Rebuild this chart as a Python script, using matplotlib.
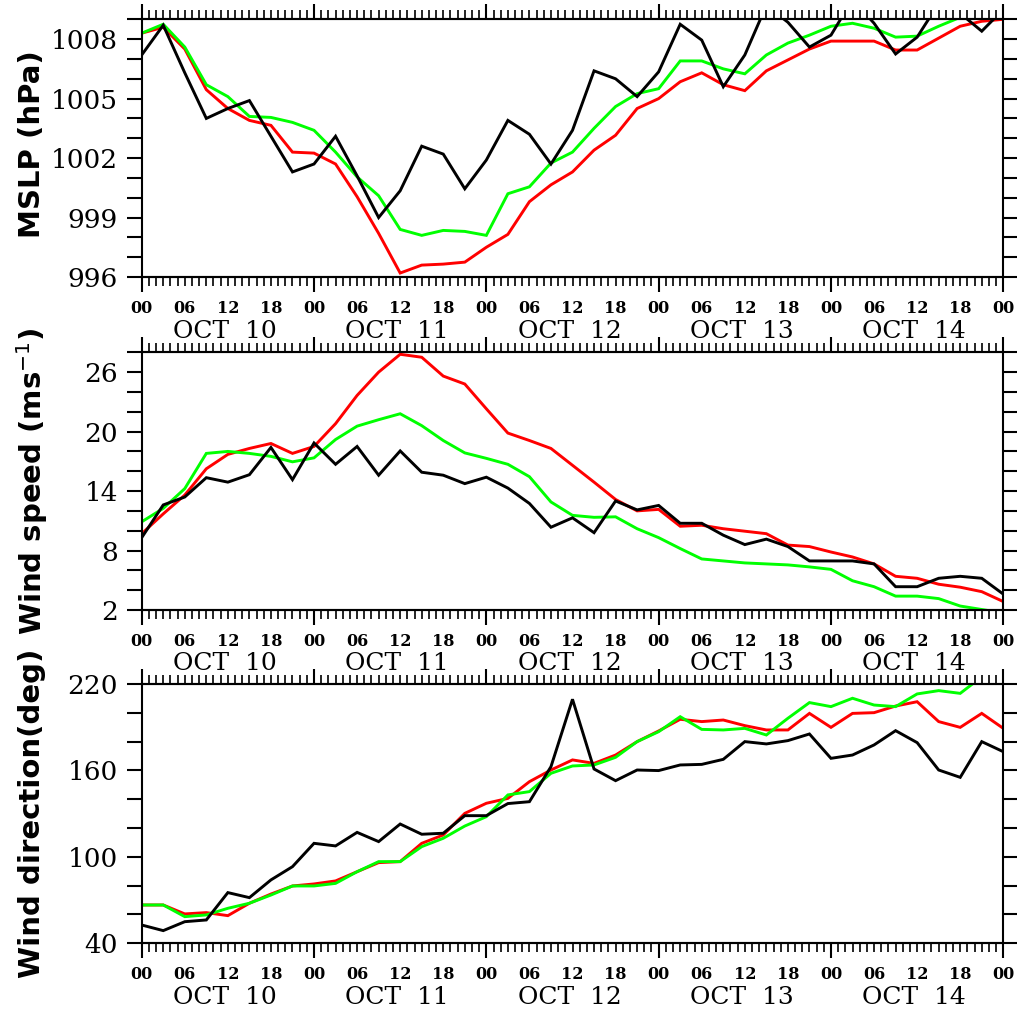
import matplotlib
matplotlib.use("Agg")
import matplotlib.pyplot as plt
from matplotlib.ticker import MultipleLocator, FixedLocator
import numpy as np

# time axis: hours from OCT 10 00Z, 3-hourly
hours = list(range(0, 121, 3))
hour_labels = ["00", "06", "12", "18"] * 5 + ["00"]
day_labels = ["OCT  10", "OCT  11", "OCT  12", "OCT  13", "OCT  14"]

# MSLP (hPa)
mslp_black = [1007.2, 1008.7, 1006.3, 1004.0, 1004.5, 1004.9, 1003.1, 1001.3, 1001.7, 1003.1,
              1001.1, 999.0, 1000.35, 1002.6, 1002.2, 1000.45, 1001.9, 1003.9, 1003.2, 1001.7,
              1003.4, 1006.4, 1006.0, 1005.1, 1006.35, 1008.75, 1007.95, 1005.6, 1007.2, 1009.7,
              1008.85, 1007.6, 1008.2, 1010.0, 1008.8, 1007.25, 1008.1, 1009.8, 1009.3, 1008.4, 1009.5]
mslp_red = [1008.3, 1008.6, 1007.5, 1005.45, 1004.5, 1003.9, 1003.65, 1002.3, 1002.25, 1001.7,
            1000.05, 998.2, 996.2, 996.6, 996.65, 996.75, 997.5, 998.15, 999.8, 1000.65,
            1001.3, 1002.4, 1003.15, 1004.5, 1005.0, 1005.85, 1006.3, 1005.7, 1005.4, 1006.4,
            1006.95, 1007.5, 1007.9, 1007.9, 1007.9, 1007.45, 1007.45, 1008.05, 1008.65, 1008.9, 1009.0]
mslp_green = [1008.3, 1008.75, 1007.6, 1005.7, 1005.1, 1004.1, 1004.05, 1003.8, 1003.4, 1002.3,
              1001.05, 1000.1, 998.4, 998.1, 998.35, 998.3, 998.1, 1000.2, 1000.55, 1001.75,
              1002.3, 1003.5, 1004.6, 1005.25, 1005.5, 1006.9, 1006.9, 1006.5, 1006.25, 1007.2,
              1007.8, 1008.2, 1008.65, 1008.8, 1008.55, 1008.1, 1008.15, 1008.65, 1009.1, 1009.5, 1009.7]

# Wind speed (m/s)
ws_black = [9.3, 12.6, 13.4, 15.35, 14.9, 15.65, 18.4, 15.15, 18.85, 16.7,
            18.5, 15.6, 18.05, 15.9, 15.6, 14.75, 15.4, 14.3, 12.75, 10.35,
            11.3, 9.8, 13.0, 12.1, 12.55, 10.75, 10.75, 9.55, 8.6, 9.15,
            8.4, 6.95, 6.95, 6.95, 6.65, 4.35, 4.35, 5.2, 5.4, 5.2, 3.6]
ws_red = [9.7, 11.7, 13.6, 16.25, 17.7, 18.3, 18.8, 17.8, 18.5, 20.8,
          23.65, 26.0, 27.8, 27.5, 25.6, 24.8, 22.3, 19.85, 19.1, 18.3,
          16.6, 14.9, 13.15, 12.0, 12.15, 10.45, 10.55, 10.2, 9.95, 9.7,
          8.55, 8.4, 7.85, 7.35, 6.65, 5.4, 5.2, 4.6, 4.3, 3.85, 2.85]
ws_green = [10.9, 12.25, 14.25, 17.8, 18.0, 17.8, 17.5, 16.95, 17.35, 19.2,
            20.55, 21.2, 21.8, 20.6, 19.1, 17.85, 17.3, 16.7, 15.45, 12.9,
            11.55, 11.35, 11.4, 10.2, 9.3, 8.2, 7.15, 6.95, 6.75, 6.65,
            6.55, 6.35, 6.1, 4.95, 4.35, 3.4, 3.4, 3.15, 2.4, 2.05, 1.7]

# Wind direction (deg)
wd_black = [52.7, 48.8, 55.0, 56.2, 75.2, 71.7, 84.0, 93.2, 109.4, 107.6,
            117.0, 110.6, 122.8, 115.7, 116.4, 128.6, 128.6, 137.0, 138.3, 162.6,
            209.4, 161.0, 152.9, 160.3, 159.9, 163.8, 164.2, 167.7, 180.0, 178.4,
            180.7, 185.3, 168.4, 170.7, 177.7, 187.6, 179.3, 160.3, 155.2, 180.0, 173.0]
wd_red = [66.6, 66.6, 60.4, 61.3, 59.2, 67.8, 74.2, 79.8, 81.2, 83.3,
          89.7, 96.0, 96.7, 109.4, 115.2, 130.2, 137.2, 140.6, 152.2, 160.3,
          167.3, 164.9, 170.7, 180.0, 187.4, 195.5, 193.9, 195.0, 191.1, 188.1,
          188.1, 199.6, 189.9, 199.6, 200.1, 204.7, 207.7, 193.9, 189.9, 199.6, 189.2]
wd_green = [66.6, 66.6, 58.5, 59.7, 64.3, 67.8, 73.5, 79.8, 79.8, 81.6,
            89.7, 96.7, 96.7, 107.1, 112.9, 121.4, 127.9, 143.0, 145.3, 158.0,
            163.1, 163.8, 169.1, 180.0, 186.9, 197.3, 188.5, 188.1, 189.2, 184.6,
            196.2, 207.1, 204.3, 210.1, 205.4, 204.3, 213.1, 215.4, 213.5, 225.0, 228.0]

panels = [
    dict(black=mslp_black, red=mslp_red, green=mslp_green, ylim=(996, 1009),
         minor=1, ticks=[996, 999, 1002, 1005, 1008], label="MSLP (hPa)",
         rect=[141.7, 19.3, 1003.3, 277.0], lab_y=0.515),
    dict(black=ws_black, red=ws_red, green=ws_green, ylim=(2, 28),
         minor=2, ticks=[2, 8, 14, 20, 26], label="Wind speed (ms$^{-1}$)",
         rect=[141.7, 352.3, 1003.3, 610.0], lab_y=0.5),
    dict(black=wd_black, red=wd_red, green=wd_green, ylim=(40, 220),
         minor=20, ticks=[40, 100, 160, 220], label="Wind direction(deg)",
         rect=[141.7, 684.0, 1003.3, 943.3], lab_y=0.5),
]

W, H = 1017, 1019
fig = plt.figure(figsize=(W / 100, H / 100), dpi=100)
serif = "DejaVu Serif"

for p in panels:
    x0, y0, x1, y1 = p["rect"]
    ax = fig.add_axes([x0 / W, 1 - y1 / H, (x1 - x0) / W, (y1 - y0) / H])
    ax.plot(hours, p["red"], color="#ff0000", lw=2.1, solid_joinstyle="miter")
    ax.plot(hours, p["green"], color="#00ff00", lw=2.1, solid_joinstyle="miter")
    ax.plot(hours, p["black"], color="black", lw=2.1, solid_joinstyle="miter")
    ax.set_xlim(0, 120)
    ax.set_ylim(*p["ylim"])
    for s in ax.spines.values():
        s.set_linewidth(1.5)

    # y axis
    ax.yaxis.set_major_locator(FixedLocator(p["ticks"]))
    ax.yaxis.set_minor_locator(MultipleLocator(p["minor"]))
    ax.tick_params(axis="y", which="both", direction="out", left=True, right=True,
                   length=11, width=1.5, labelsize=19, pad=6)
    for t in ax.get_yticklabels():
        t.set_family(serif)

    # x axis: labels every 6 h, minor ticks hourly, long ticks at day boundaries
    ax.set_xticks(list(range(0, 121, 6)), hour_labels)
    ax.xaxis.set_minor_locator(MultipleLocator(1))
    ax.tick_params(axis="x", which="both", direction="out", top=True, bottom=True,
                   length=6.5, width=1.2, labelsize=11.5, pad=10)
    for t in ax.get_xticklabels():
        t.set_family(serif)
        t.set_weight("bold")
    for side in ("bottom", "top"):
        sec = ax.secondary_xaxis(side)
        sec.set_xticks(list(range(0, 121, 24)), [""] * 6)
        sec.tick_params(length=11, width=1.5, direction="out")
        sec.spines[side].set_linewidth(1.5)

    for k, lab in enumerate(day_labels):
        ax.annotate(lab, xy=(12 + 24 * k, 0), xycoords=("data", "axes fraction"),
                    xytext=(-3, -54), textcoords="offset pixels", ha="center", va="center",
                    fontsize=18, family=serif)

    ax.text(-0.127, p["lab_y"], p["label"], transform=ax.transAxes, rotation=90,
            ha="center", va="center", fontsize=21, fontweight="bold",
            family="DejaVu Sans")

fig.savefig("out.png", dpi=100)
